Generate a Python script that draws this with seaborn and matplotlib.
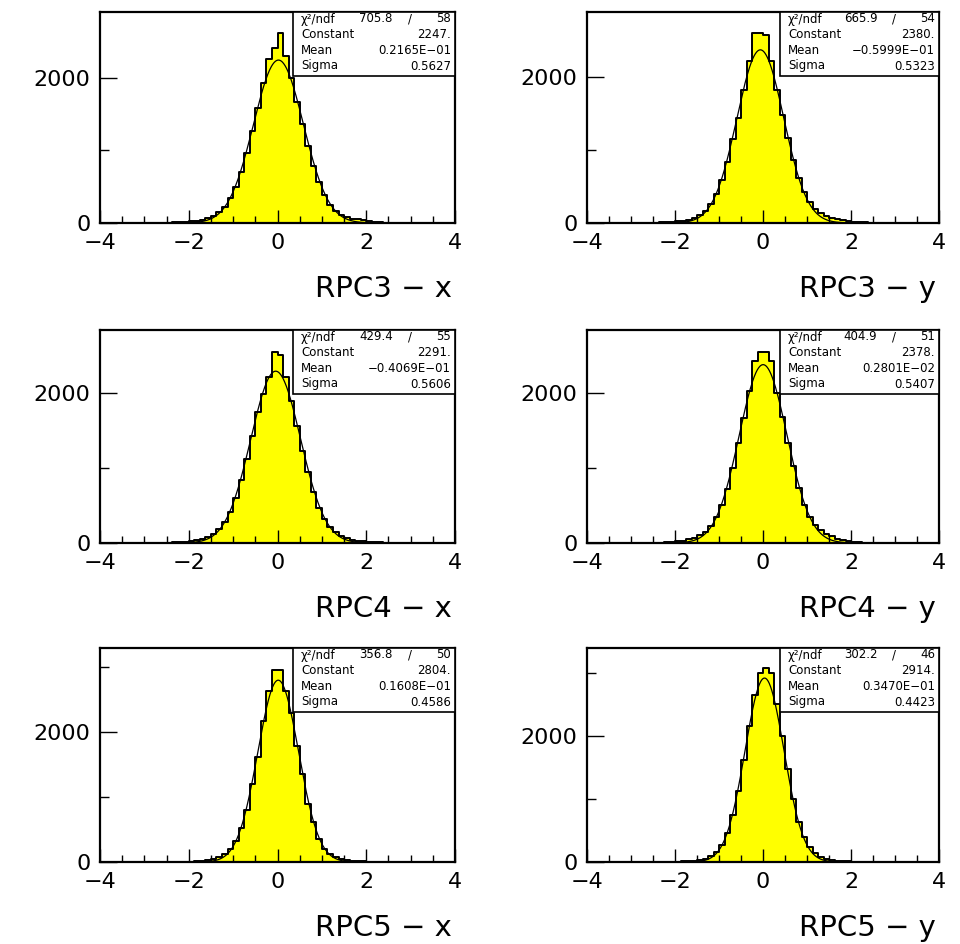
import numpy as np
import pandas as pd
import matplotlib
matplotlib.use("Agg")
import matplotlib.pyplot as plt
import seaborn as sns
from matplotlib.ticker import MultipleLocator
from matplotlib.patches import Rectangle

sns.set_style("ticks")
plt.rcParams['font.family'] = ['DejaVu Sans']
for key in ["text.color", "axes.labelcolor", "xtick.color", "ytick.color", "axes.edgecolor"]:
    plt.rcParams[key] = "black"

# histogram binning: 40 bins of 0.125 starting at -2.5 (everything outside is ~empty)
bin_lo = -2.5
bin_w = 0.125

labels = ["RPC3 − x", "RPC3 − y", "RPC4 − x", "RPC4 − y", "RPC5 − x", "RPC5 − y"]

counts_rpc3_x = [5, 7, 10, 15, 22, 32, 45, 65, 95, 145,
                 225, 340, 500, 700, 970, 1270, 1580, 1930, 2263, 2415,
                 2623, 2300, 2000, 1670, 1370, 1060, 790, 560, 380, 250,
                 165, 110, 80, 62, 50, 38, 25, 15, 10, 6]
counts_rpc3_y = [5, 7, 10, 15, 22, 32, 48, 70, 105, 165,
                 260, 400, 590, 840, 1150, 1450, 1830, 2220, 2610, 2615,
                 2590, 2220, 1830, 1480, 1170, 870, 620, 430, 290, 195,
                 135, 95, 70, 52, 38, 26, 17, 11, 7, 5]
counts_rpc4_x = [5, 8, 12, 18, 26, 38, 55, 80, 120, 180,
                 275, 410, 600, 840, 1120, 1430, 1750, 1990, 2208, 2547,
                 2511, 2208, 1900, 1560, 1230, 940, 680, 470, 320, 210,
                 140, 95, 65, 45, 32, 22, 15, 10, 7, 5]
counts_rpc4_y = [3, 5, 8, 13, 20, 30, 48, 72, 105, 150,
                 225, 340, 500, 720, 1000, 1330, 1670, 2022, 2431, 2547,
                 2547, 2431, 2000, 1680, 1330, 1020, 730, 510, 345, 240,
                 170, 125, 88, 57, 38, 25, 16, 10, 6, 4]
counts_rpc5_x = [1, 2, 3, 4, 6, 10, 15, 25, 42, 70,
                 125, 200, 330, 520, 800, 1200, 1620, 2181, 2632, 2960,
                 2960, 2632, 2300, 1790, 1350, 900, 610, 350, 200, 125,
                 75, 45, 28, 18, 12, 8, 5, 3, 2, 1]
counts_rpc5_y = [1, 2, 3, 4, 6, 9, 14, 22, 35, 55,
                 90, 155, 270, 460, 740, 1130, 1620, 2150, 2640, 3000,
                 3075, 2990, 2500, 2000, 1480, 1000, 640, 390, 230, 135,
                 85, 55, 35, 22, 14, 9, 6, 4, 3, 2]
all_counts = [counts_rpc3_x, counts_rpc3_y, counts_rpc4_x,
              counts_rpc4_y, counts_rpc5_x, counts_rpc5_y]

# gaussian fit results shown in the stat boxes
fit_const = [2247., 2380., 2291., 2378., 2804., 2914.]
fit_mean = [0.2165e-01, -0.5999e-01, -0.4069e-01, 0.2801e-02, 0.1608e-01, 0.3470e-01]
fit_sigma = [0.5627, 0.5323, 0.5606, 0.5407, 0.4586, 0.4423]
chi2_txt = ["705.8", "665.9", "429.4", "404.9", "356.8", "302.2"]
ndf_txt = ["58", "54", "55", "51", "50", "46"]
const_txt = ["2247.", "2380.", "2291.", "2378.", "2804.", "2914."]
mean_txt = ["0.2165E−01", "−0.5999E−01", "−0.4069E−01",
            "0.2801E−02", "0.1608E−01", "0.3470E−01"]
sigma_txt = ["0.5627", "0.5323", "0.5606", "0.5407", "0.4586", "0.4423"]
y_max = [2910, 2900, 2840, 2840, 3300, 3390]

W, H = 960, 944
fig = plt.figure(figsize=(W / 100, H / 100), dpi=100)

cols = [(100, 355), (587, 352)]              # left px, width px
rows = [(12, 223), (330, 543), (648, 862)]   # top px, bottom px

for i in range(6):
    r, c = divmod(i, 2)
    left, width = cols[c]
    top, bottom = rows[r]
    axh = bottom - top
    ax = fig.add_axes([left / W, 1 - bottom / H, width / W, axh / H])

    cnt = all_counts[i]
    nb = len(cnt)
    df = pd.DataFrame({"x": bin_lo + bin_w * (np.arange(nb) + 0.5), "n": cnt})
    sns.histplot(data=df, x="x", weights="n", binwidth=bin_w,
                 binrange=(bin_lo, bin_lo + nb * bin_w), element="step",
                 fill=True, color="#ffff00", alpha=1, edgecolor="black",
                 linewidth=1.4, ax=ax)

    xs = np.linspace(-4, 4, 801)
    ys = fit_const[i] * np.exp(-0.5 * ((xs - fit_mean[i]) / fit_sigma[i]) ** 2)
    ax.plot(xs, ys, color="black", linewidth=0.9)

    ax.set_xlim(-4, 4)
    ax.set_ylim(0, y_max[i])
    ax.set_xlabel("")
    ax.set_ylabel("")
    ax.set_xticks([-4, -2, 0, 2, 4])
    ax.xaxis.set_minor_locator(MultipleLocator(0.5))
    ax.yaxis.set_major_locator(MultipleLocator(2000))
    ax.yaxis.set_minor_locator(MultipleLocator(1000))
    ax.tick_params(axis="x", which="major", direction="in", length=9.5,
                   width=1, labelsize=16, pad=7)
    ax.tick_params(axis="x", which="minor", direction="in", length=5, width=1)
    ax.tick_params(axis="y", which="major", direction="in", length=12,
                   width=1, labelsize=16, pad=7)
    ax.tick_params(axis="y", which="minor", direction="in", length=6.5, width=1)
    ax.set_axisbelow(False)
    for sp in ax.spines.values():
        sp.set_visible(True)
        sp.set_linewidth(1.6)

    # stat box
    bx = 0.548 if c == 1 else 0.5437
    bh = 64 / axh
    ax.add_patch(Rectangle((bx, 1 - bh), 1 - bx, bh, transform=ax.transAxes,
                           facecolor="white", edgecolor="black", linewidth=1.2,
                           zorder=5))
    tx = bx + 8 / width
    vx = 1 - 4 / width
    row_y = [1 - d / axh for d in (7, 22.5, 38.5, 54)]
    kw = dict(transform=ax.transAxes, fontsize=8.5, va="center", zorder=6)
    ax.text(tx, row_y[0], "χ²/ndf", ha="left", **kw)
    ax.text(0.777, row_y[0], chi2_txt[i], ha="center", **kw)
    ax.text(0.873, row_y[0], "/", ha="center", **kw)
    ax.text(vx, row_y[0], ndf_txt[i], ha="right", **kw)
    ax.text(tx, row_y[1], "Constant", ha="left", **kw)
    ax.text(vx, row_y[1], const_txt[i], ha="right", **kw)
    ax.text(tx, row_y[2], "Mean", ha="left", **kw)
    ax.text(vx, row_y[2], mean_txt[i], ha="right", **kw)
    ax.text(tx, row_y[3], "Sigma", ha="left", **kw)
    ax.text(vx, row_y[3], sigma_txt[i], ha="right", **kw)

    ax.text(1 - 3 / width, -66 / axh, labels[i], transform=ax.transAxes,
            ha="right", va="center", fontsize=21)

fig.savefig("out.png", dpi=100)
